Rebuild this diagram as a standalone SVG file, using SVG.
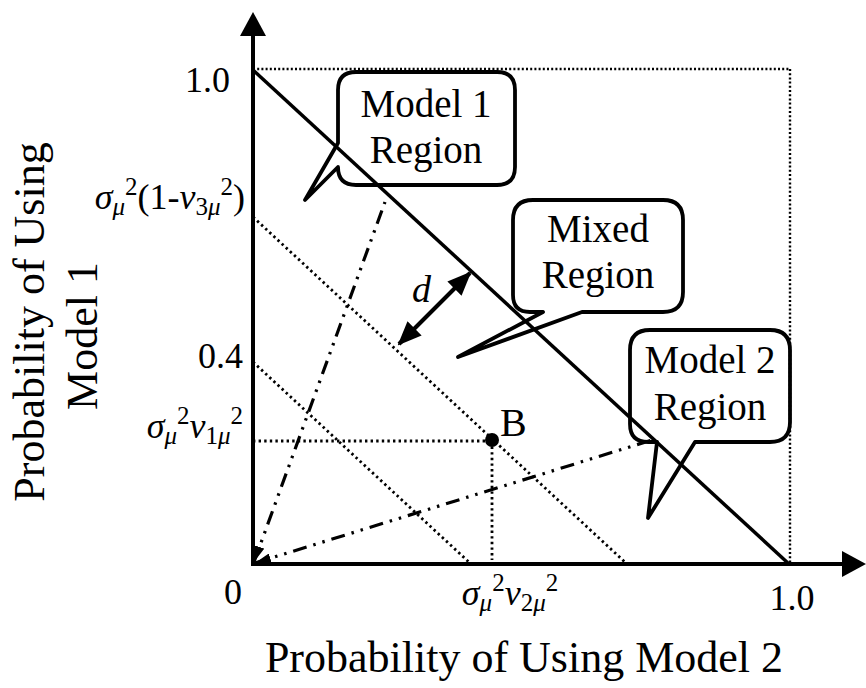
<svg xmlns="http://www.w3.org/2000/svg" width="866" height="688" viewBox="0 0 866 688">
<style>
text{font-family:"Liberation Serif","Times New Roman",serif;fill:#000}
.lbl{font-size:36px}
.box{font-size:39px;text-anchor:middle}
.ttl{font-size:44px;text-anchor:middle}
.it{font-style:italic}
.sm{font-size:25px}
.axis{stroke:#000;stroke-width:4;fill:none}
.solid{stroke:#000;stroke-width:3.5;fill:none}
.dot{stroke:#000;stroke-width:2.8;fill:none;stroke-dasharray:2.4 3.2}
.dotf{stroke:#000;stroke-width:2.4;fill:none;stroke-dasharray:2 2.2}
.dd{stroke:#000;stroke-width:3.2;fill:none;stroke-dasharray:14 7 2.5 7 2.5 7}
.bub{stroke:#000;stroke-width:3.8;fill:none;stroke-linejoin:round}
</style>
<defs>
<marker id="ah" markerUnits="userSpaceOnUse" markerWidth="24" markerHeight="20" refX="22" refY="10" orient="auto-start-reverse"><path d="M0,0 L24,10 L0,20 z" fill="#000"/></marker>
<marker id="sa" markerUnits="userSpaceOnUse" markerWidth="16" markerHeight="10" refX="16" refY="5" orient="auto-start-reverse"><path d="M0,0 L16,5 L0,10 z" fill="#000"/></marker>
</defs>
<rect width="866" height="688" fill="#fff"/>
<g id="axes">
<line class="axis" x1="253" y1="566" x2="253" y2="30"/>
<polygon points="253,12 240,36 266,36" fill="#000"/>
<line class="axis" x1="251" y1="564" x2="846" y2="564"/>
<polygon points="866,564 842,551 842,577" fill="#000"/>
</g>
<g id="connectors">
<line class="dotf" x1="253" y1="69" x2="790" y2="69"/>
<line class="dotf" x1="790" y1="69" x2="790" y2="564"/>
<line class="dot" x1="253" y1="217" x2="627" y2="564"/>
<line class="dot" x1="253" y1="362" x2="471" y2="564"/>
<line class="dot" x1="253" y1="441" x2="492" y2="441"/>
<line class="dot" x1="492" y1="441" x2="492" y2="560"/>
<line class="solid" x1="253" y1="70" x2="789" y2="564"/>
<line class="dd" x1="254" y1="562" x2="385" y2="202" marker-start="url(#sa)"/>
<line class="dd" x1="255" y1="563" x2="652" y2="440" marker-start="url(#sa)"/>
<line stroke="#000" stroke-width="4" x1="399" y1="344" x2="470" y2="273" marker-start="url(#ah)" marker-end="url(#ah)"/>
</g>
<g id="model1-region">
<path class="bub" d="M356,72 H497 Q515,72 515,90 V167 Q515,185 497,185 H356 Q338,185 338,167 L305,200 L338,143 V90 Q338,72 356,72 Z"/>
<text class="box" x="426" y="117">Model 1</text>
<text class="box" x="426" y="163">Region</text>
</g>
<g id="mixed-region">
<path class="bub" d="M533,200 H663 Q683,200 683,220 V292 Q683,312 663,312 H582 L458,357 L543,312 H530 Q513,312 513,295 V220 Q513,200 533,200 Z"/>
<text class="box" x="598" y="242">Mixed</text>
<text class="box" x="598" y="288">Region</text>
</g>
<g id="model2-region">
<path class="bub" d="M650,330 H770 Q790,330 790,350 V422 Q790,442 770,442 H695 L648,518 L657,442 H648 Q630,442 630,424 V350 Q630,330 650,330 Z"/>
<text class="box" x="710" y="373">Model 2</text>
<text class="box" x="710" y="420">Region</text>
</g>
<g id="point-B">
<circle cx="492" cy="440" r="7" fill="#000"/>
<text x="500" y="436" style="font-size:40px">B</text>
</g>
<g id="d-label">
<text class="it" x="412" y="302" style="font-size:38px">d</text>
</g>
<g id="y-labels">
<text class="lbl" x="230" y="92" text-anchor="end">1.0</text>
<text class="lbl" x="243" y="368" text-anchor="end">0.4</text>
<text class="lbl" x="245" y="209" text-anchor="end"><tspan class="it">σ</tspan><tspan class="it sm" dy="6">μ</tspan><tspan class="sm" dy="-20">2</tspan><tspan dy="14">(1-</tspan><tspan class="it">v</tspan><tspan class="sm" dy="6">3</tspan><tspan class="it sm">μ</tspan><tspan class="sm" dy="-20">2</tspan><tspan dy="14">)</tspan></text>
<text class="lbl" x="243" y="438" text-anchor="end"><tspan class="it">σ</tspan><tspan class="it sm" dy="6">μ</tspan><tspan class="sm" dy="-20">2</tspan><tspan class="it" dy="14">v</tspan><tspan class="sm" dy="6">1</tspan><tspan class="it sm">μ</tspan><tspan class="sm" dy="-20">2</tspan></text>
</g>
<g id="x-labels">
<text class="lbl" x="233" y="604" text-anchor="middle">0</text>
<text class="lbl" x="510" y="605" text-anchor="middle"><tspan class="it">σ</tspan><tspan class="it sm" dy="6">μ</tspan><tspan class="sm" dy="-20">2</tspan><tspan class="it" dy="14">v</tspan><tspan class="sm" dy="6">2</tspan><tspan class="it sm">μ</tspan><tspan class="sm" dy="-20">2</tspan></text>
<text class="lbl" x="792" y="610" text-anchor="middle">1.0</text>
</g>
<g id="titles">
<text class="ttl" x="524" y="672">Probability of Using Model 2</text>
<text class="ttl" transform="translate(44,322) rotate(-90)">Probability of Using</text>
<text class="ttl" transform="translate(97,336) rotate(-90)">Model 1</text>
</g>
</svg>
